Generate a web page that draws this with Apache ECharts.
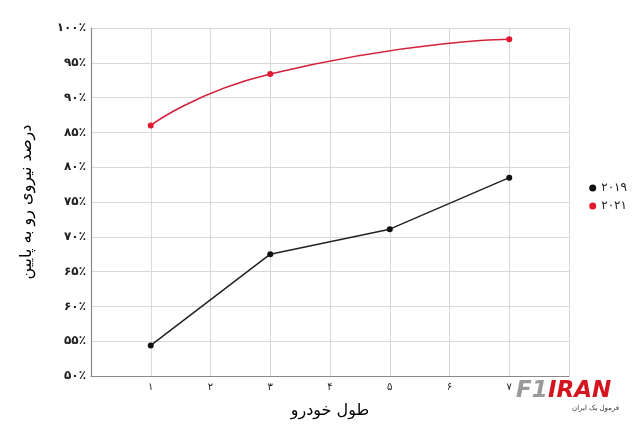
<!DOCTYPE html>
<html><head><meta charset="utf-8">
<script src="https://cdn.jsdelivr.net/npm/echarts@6/dist/echarts.min.js"></script>
<style>html,body{margin:0;padding:0;background:#fff}#c{width:640px;height:426px}</style>
</head><body><div id="c"></div>
<script>
const xValues = [1, 3, 5, 7];
const xValues2021 = [1, 3, 7];
const series2019 = [54.4, 67.5, 71.1, 78.5];
const series2021 = [86.0, 93.4, 98.4];
const seriesNames = ['۲۰۱۹', '۲۰۲۱'];
const xAxisTitle = 'طول خودرو';
const yAxisTitle = 'درصد نیروی رو به پایین';
const faDigits = ['۰','۱','۲','۳','۴','۵','۶','۷','۸','۹'];
function fa(n){ return String(n).replace(/[0-9]/g, d => faDigits[+d]); }
const FONT = '"DejaVu Sans", sans-serif';

const chart = echarts.init(document.getElementById('c'));
chart.setOption({
  animation: false,
  backgroundColor: '#fff',
  grid: { left: 91, right: 71, top: 28, bottom: 50 },
  legend: {
    orient: 'vertical', right: 8, top: 177, itemGap: 6,
    icon: 'circle', itemWidth: 7, itemHeight: 7,
    textStyle: { fontFamily: FONT, fontSize: 12, color: '#222' },
    data: seriesNames
  },
  xAxis: {
    type: 'value', min: 0, max: 8, interval: 1,
    name: xAxisTitle, nameLocation: 'middle', nameGap: 27,
    nameTextStyle: { fontFamily: FONT, fontSize: 16, color: '#000' },
    axisLine: { lineStyle: { color: '#8a8a8a', width: 1.2 } },
    axisTick: { show: false },
    axisLabel: { fontFamily: FONT, fontSize: 10, color: '#222', margin: 6,
      formatter: v => (v === 0 || v === 8) ? '' : fa(v) },
    splitLine: { show: true, lineStyle: { color: '#d9d9d9', width: 1 } }
  },
  yAxis: {
    type: 'value', min: 50, max: 100, interval: 5,
    name: yAxisTitle, nameLocation: 'middle', nameGap: 56, nameRotate: 90,
    nameTextStyle: { fontFamily: FONT, fontSize: 16, color: '#000' },
    axisLine: { show: true, lineStyle: { color: '#8a8a8a', width: 1.2 } },
    axisTick: { show: false },
    axisLabel: { fontFamily: FONT, fontSize: 12, fontWeight: 'bold', color: '#222', margin: 5,
      formatter: v => fa(v) + '٪' },
    splitLine: { show: true, lineStyle: { color: '#d9d9d9', width: 1 } }
  },
  series: [
    { name: seriesNames[0], type: 'line', data: xValues.map((x, i) => [x, series2019[i]]),
      color: '#111', symbol: 'circle', symbolSize: 6,
      lineStyle: { width: 1.5, color: '#222' }, itemStyle: { color: '#111' } },
    { name: seriesNames[1], type: 'line', data: xValues2021.map((x, i) => [x, series2021[i]]),
      smooth: 0.6, color: '#e0192e', symbol: 'circle', symbolSize: 6,
      lineStyle: { width: 1.5, color: '#d4213a' }, itemStyle: { color: '#e0192e' } }
  ],
  graphic: [
    { type: 'text', left: 516, top: 380, style: { text: 'F1', font: 'italic bold 23px "DejaVu Sans"', fill: '#9a9a9a' } },
    { type: 'text', left: 548, top: 380, style: { text: 'IRAN', font: 'italic bold 23px "DejaVu Sans"', fill: '#d4151f' } },
    { type: 'text', left: 572, top: 405, style: { text: 'فرمول یک ایران', font: '7px "DejaVu Sans"', fill: '#333' } }
  ]
});
</script></body></html>
